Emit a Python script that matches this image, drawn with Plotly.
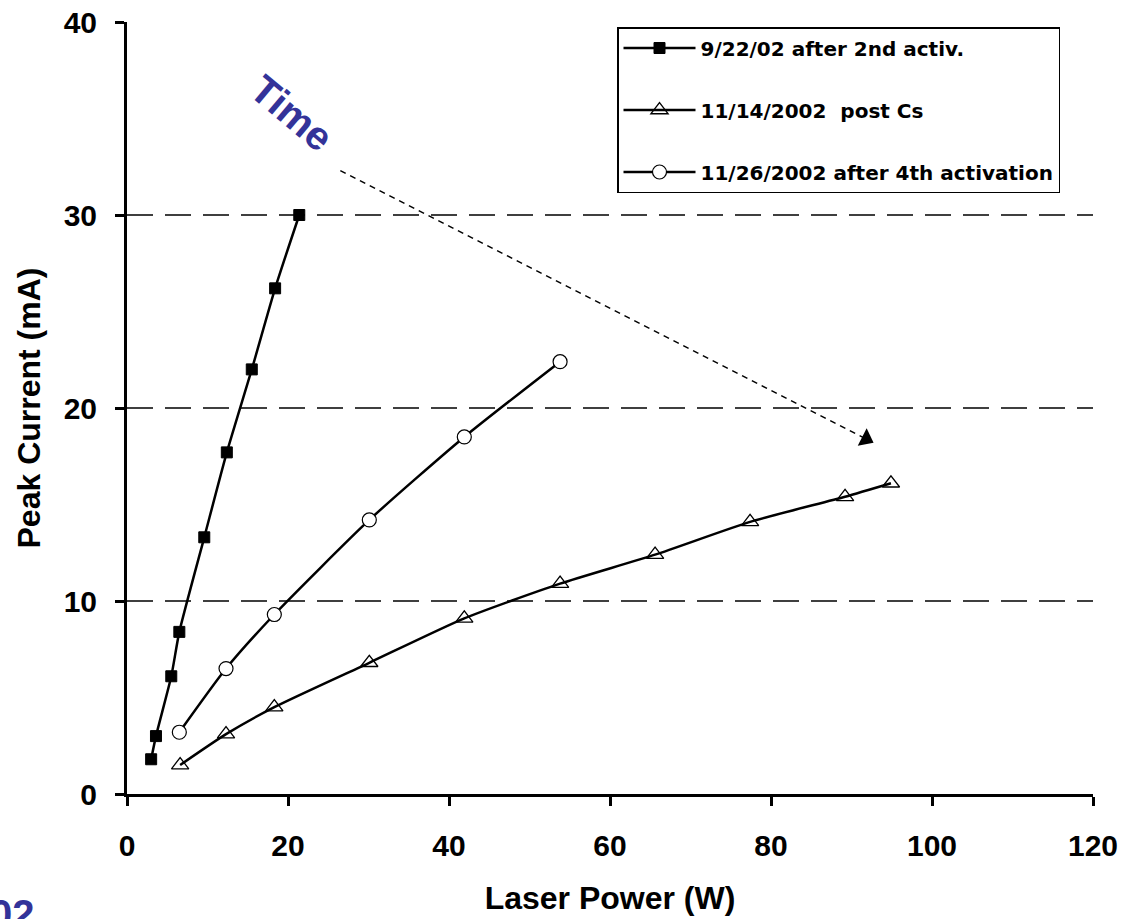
import plotly.graph_objects as go

# Series 1: 9/22/02 after 2nd activ.
x_s1 = [3.0, 3.6, 5.5, 6.5, 9.6, 12.4, 15.5, 18.4, 21.4]
y_s1 = [1.8, 3.0, 6.1, 8.4, 13.3, 17.7, 22.0, 26.2, 30.0]
# Series 2: 11/14/2002 post Cs
x_s2 = [6.6, 12.3, 18.3, 30.1, 41.9, 53.8, 65.6, 77.4, 89.2, 94.9]
y_s2 = [1.5, 3.1, 4.5, 6.8, 9.1, 10.9, 12.4, 14.1, 15.4, 16.1]
# Series 3: 11/26/2002 after 4th activation
x_s3 = [6.5, 12.3, 18.3, 30.1, 41.9, 53.8]
y_s3 = [3.2, 6.5, 9.3, 14.2, 18.5, 22.4]

names = ["9/22/02 after 2nd activ.", "11/14/2002  post Cs", "11/26/2002 after 4th activation"]
x_ticks = [0, 20, 40, 60, 80, 100, 120]
y_ticks = [0, 10, 20, 30, 40]
grid_levels = [10, 20, 30]

# "Time" arrow endpoints (data coords)
arrow_x = [26.5, 91.8]
arrow_y = [32.3, 18.4]

FONT = "Liberation Sans, Arial, sans-serif"
LFONT = "DejaVu Sans, Liberation Sans, sans-serif"

fig = go.Figure()

fig.add_trace(go.Scatter(
    x=x_s1, y=y_s1, mode="lines+markers", name=names[0], legendgroup="a",
    line=dict(color="black", width=2.5, shape="spline", smoothing=0.6),
    marker=dict(symbol="square", size=11, color="black", line=dict(color="black", width=1)),
))
fig.add_trace(go.Scatter(
    x=x_s2, y=y_s2, mode="lines+markers", name=names[1], legendgroup="b",
    line=dict(color="black", width=2.5, shape="spline", smoothing=0.6),
    marker=dict(symbol="triangle-up-open", size=15, color="black", line=dict(color="black", width=1.3)),
))
fig.add_trace(go.Scatter(
    x=x_s3, y=y_s3, mode="lines+markers", name=names[2], legendgroup="c",
    line=dict(color="black", width=2.5, shape="spline", smoothing=0.6),
    marker=dict(symbol="circle", size=14, color="white", line=dict(color="black", width=1.2)),
))

for g in grid_levels:
    fig.add_shape(type="line", xref="x", yref="y", x0=0, x1=120, y0=g, y1=g,
                  line=dict(color="black", width=1.5, dash="26px,12px"), layer="below")

# dashed time arrow
fig.add_trace(go.Scatter(
    x=arrow_x, y=arrow_y, mode="lines", showlegend=False, hoverinfo="skip",
    line=dict(color="black", width=1.5, dash="6px,5px"),
))
fig.add_trace(go.Scatter(
    x=[arrow_x[1]], y=[arrow_y[1]], mode="markers", showlegend=False, hoverinfo="skip",
    marker=dict(symbol="triangle-up", size=17, color="black", angle=117),
))

fig.add_annotation(
    x=20.5, y=35.3, xref="x", yref="y", text="Time", showarrow=False,
    textangle=40, font=dict(family=FONT, size=40, color="#333399", weight="bold"),
)

# partial cropped blue text at bottom-left (cut by the picture edge, as in the reference)
fig.add_annotation(
    xref="paper", yref="paper", x=-139/966, y=-(890-794)/772,
    xanchor="left", yanchor="top", text="02", showarrow=False,
    font=dict(family=FONT, size=40, color="#333399", weight="bold"),
)

fig.update_layout(
    width=1125, height=919,
    margin=dict(l=127, r=32, t=22, b=125),
    paper_bgcolor="white", plot_bgcolor="white",
    font=dict(family=FONT, color="black"),
    showlegend=True,
    legend=dict(
        x=(617 - 127) / 966, y=1 - (27 - 22) / 772, xanchor="left", yanchor="top",
        bgcolor="white", bordercolor="black", borderwidth=1.5,
        font=dict(family=LFONT, size=20, color="black", weight="bold"),
        tracegroupgap=33, itemwidth=72,
    ),
    xaxis=dict(
        range=[0, 120], tickvals=x_ticks, showgrid=False, zeroline=False,
        showline=True, linecolor="black", linewidth=3, automargin=False,
        ticks="outside", ticklen=9, tickwidth=3, tickcolor="black",
        tickfont=dict(family=FONT, size=30, color="black", weight="bold"),
        ticklabelstandoff=14,
        title=dict(text="Laser Power (W)", font=dict(family=FONT, size=32, color="black", weight="bold"), standoff=26),
    ),
    yaxis=dict(
        range=[0, 40], tickvals=y_ticks, showgrid=False, zeroline=False,
        showline=True, linecolor="black", linewidth=3, automargin=False,
        ticks="outside", ticklen=9, tickwidth=3, tickcolor="black",
        tickfont=dict(family=FONT, size=30, color="black", weight="bold"),
        ticklabelstandoff=12,
        title=dict(text="Peak Current (mA)", font=dict(family=FONT, size=32, color="black", weight="bold"), standoff=14),
    ),
)

fig.write_html("out.html")
